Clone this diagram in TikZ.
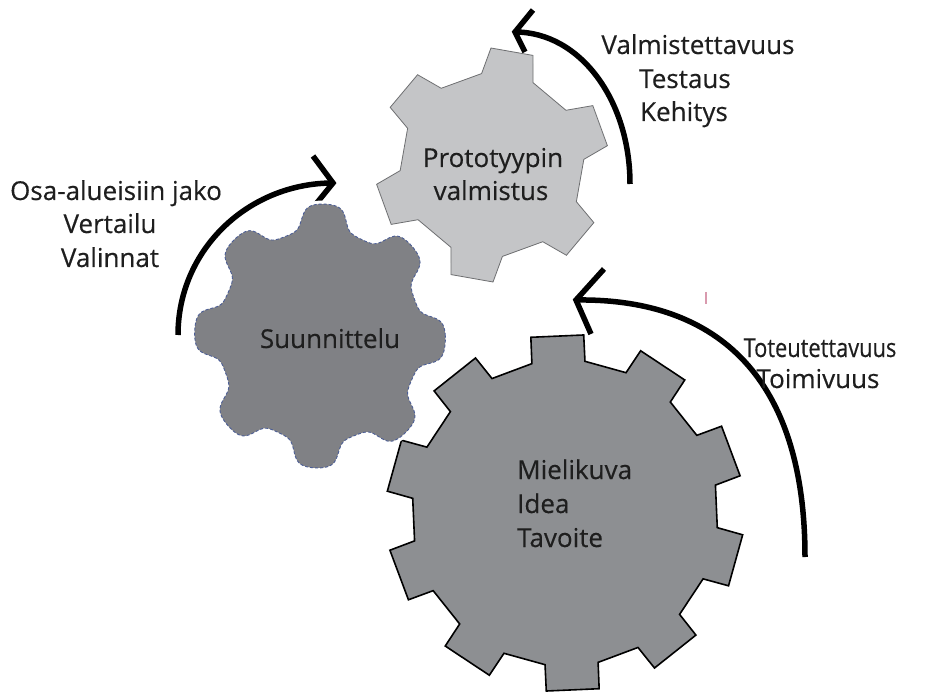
\documentclass[tikz,border=0pt]{standalone}
\usepackage{fontspec}
\setmainfont{Open Sans}
\newfontfamily\lblfont{Open Sans}[FakeBold=0.35]
\definecolor{biggear}{HTML}{8D8F92}
\definecolor{lightgear}{HTML}{C4C5C7}
\definecolor{lightedge}{HTML}{6E6F71}
\definecolor{darkgear}{HTML}{808185}
\definecolor{darkedge}{HTML}{4C5E96}
\definecolor{txt}{HTML}{1E1E1E}
\definecolor{tick}{HTML}{D99AAE}
\newcommand{\mygearshape}[9]{%
  \pgfmathsetmacro{\gstep}{360/#6}%
  \pgfmathtruncatemacro{\glast}{#6-1}%
  \draw[#1] ({#2+#4*cos(#7-#8)},{#3-#4*sin(#7-#8)})
    \foreach \k in {0,...,\glast}{
      -- ({#2+#4*cos(#7+\gstep*\k-#8)},{#3-#4*sin(#7+\gstep*\k-#8)})
      -- ({#2+#5*cos(#7+\gstep*\k-#9)},{#3-#5*sin(#7+\gstep*\k-#9)})
      -- ({#2+#5*cos(#7+\gstep*\k+#9)},{#3-#5*sin(#7+\gstep*\k+#9)})
      -- ({#2+#4*cos(#7+\gstep*\k+#8)},{#3-#4*sin(#7+\gstep*\k+#8)})
    } -- cycle;
}
\tikzset{
  lbl/.style={font=\lblfont\fontsize{26}{34}\selectfont, text=txt, inner sep=0pt, anchor=base},
  bigstyle/.style={fill=biggear, draw=black, line width=1.6pt, line join=miter},
  lightstyle/.style={fill=lightgear, draw=lightedge, line width=0.8pt, line join=miter},
  darkstyle/.style={fill=darkgear, draw=darkedge, line width=0.9pt, densely dashed},
  halostyle/.style={draw=white, line width=7pt, line join=round},
  curvearrow/.style={draw=black, line width=5.5pt, line cap=butt},
  chevron/.style={draw=black, line width=5.5pt, line cap=butt, line join=miter}
}
% soft-square radius profile of the scalloped gear
\pgfmathdeclarefunction{scal}{1}{%
  \pgfmathparse{119+13*sqrt(1.25)*cos(8*(#1-88))/sqrt(cos(8*(#1-88))^2+0.25)}%
}
\begin{document}
\begin{tikzpicture}[x=1pt,y=-1pt]
\useasboundingbox (0,0) rectangle (927,695);
\fill[white] (0,0) rectangle (927,695);

% arrows (behind gears)
\coordinate (aAs) at (178,335);
\coordinate (aAt) at (333,183);
\coordinate (aAu) at (313,156);
\coordinate (aAl) at (316,204);
\coordinate (aBs) at (630,184);
\coordinate (aBt) at (515,32);
\coordinate (aBu) at (533,10);
\coordinate (aBl) at (525,52);
\coordinate (aCs) at (805,557);
\coordinate (aCt) at (576,300);
\coordinate (aCu) at (604,269);
\coordinate (aCl) at (591,334);

\draw[curvearrow] (aAs) .. controls (178,249) and (249,183) .. (aAt);
\draw[chevron] (aAu) -- (aAt) -- (aAl);
\draw[curvearrow] (aBs) .. controls (630,100) and (580,32) .. (aBt);
\draw[chevron] (aBu) -- (aBt) -- (aBl);
\draw[curvearrow] (aCs) .. controls (805,380) and (720,298) .. (aCt);
\draw[chevron] (aCu) -- (aCt) -- (aCl);

% big gear
\mygearshape{bigstyle}{565}{513}{153}{179}{10}{92.5}{10}{8.5}
% light gear
\mygearshape{lightstyle}{492}{165}{92}{117}{6}{80}{16.5}{10.5}
% dark scalloped gear with white halo
\draw[halostyle] plot[domain=0:359, samples=360] ({320+0.95*scal(\x)*cos(\x)},{336-scal(\x)*sin(\x)}) -- cycle;
\draw[darkstyle] plot[domain=0:359, samples=360] ({320+0.95*scal(\x)*cos(\x)},{336-scal(\x)*sin(\x)}) -- cycle;

% small tick mark
\draw[tick, line width=1.3pt] (706,292) -- (706,304);

% texts
\node[lbl] (t1) at (116,200) {Osa-alueisiin jako};
\node[lbl] (t2) at (110,233) {Vertailu};
\node[lbl] (t3) at (110,267) {Valinnat};
\node[lbl] (t4) at (698,54) {Valmistettavuus};
\node[lbl] (t5) at (685,88) {Testaus};
\node[lbl] (t6) at (684,121) {Kehitys};
\node[lbl] (t7) at (493,167) {Prototyypin};
\node[lbl] (t8) at (491,200) {valmistus};
\node[lbl] (t9) at (330,348) {Suunnittelu};
\node[lbl, xscale=0.84, transform shape] (t10) at (820,357) {Toteutettavuus};
\node[lbl] (t11) at (818,388) {Toimivuus};
\node[lbl, anchor=base west] (t12) at (517,479) {Mielikuva};
\node[lbl, anchor=base west] (t13) at (517,513) {Idea};
\node[lbl, anchor=base west] (t14) at (517,547) {Tavoite};
\end{tikzpicture}
\end{document}
